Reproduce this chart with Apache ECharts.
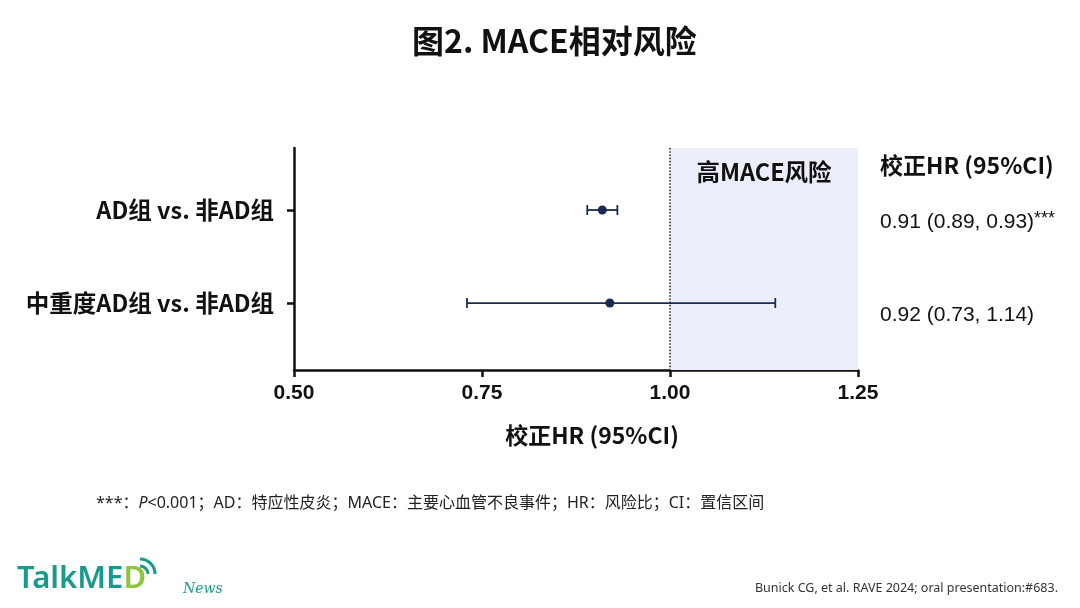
<!DOCTYPE html>
<html><head><meta charset="utf-8">
<script src="https://cdn.jsdelivr.net/npm/echarts@6/dist/echarts.min.js"></script>
<style>html,body{margin:0;padding:0;background:#fff}#c{width:1080px;height:608px}</style>
</head><body><div id="c"></div>
<script>
const categories = ['AD组 vs. 非AD组', '中重度AD组 vs. 非AD组'];
const hr = [0.91, 0.92];
const ciLow = [0.89, 0.73];
const ciHigh = [0.93, 1.14];
const hrLabels = ['0.91 (0.89, 0.93)', '0.92 (0.73, 1.14)'];
const hrSig = ['***', ''];
const xTicks = [0.50, 0.75, 1.00, 1.25];
const refLine = 1.00;

const CJK = 'Noto Sans CJK SC';
const MIX = 'Noto Sans, Noto Sans CJK SC, sans-serif';
const ARIAL = 'Liberation Sans';
const navy = '#1b2a52';
const chart = echarts.init(document.getElementById('c'));
const data = categories.map((c, i) => [hr[i], ciLow[i], ciHigh[i], i]);

chart.setOption({
  backgroundColor: '#fff',
  animation: false,
  title: {
    text: '图2. MACE相对风险', left: 407, top: 20,
    textStyle: { fontFamily: CJK, fontSize: 32, fontWeight: 'bold', color: '#111' }
  },
  grid: { left: 294, right: 222, top: 148, bottom: 238 },
  xAxis: {
    type: 'value', min: xTicks[0], max: xTicks[xTicks.length - 1], interval: 0.25,
    name: '校正HR (95%CI)', nameLocation: 'middle', nameGap: 54,
    nameTextStyle: { fontFamily: CJK, fontSize: 23, fontWeight: 'bold', color: '#111', padding: [0, 0, 0, 32] },
    axisLine: { onZero: false, lineStyle: { color: '#111', width: 2.5 } },
    axisTick: { length: 7, lineStyle: { color: '#111', width: 2.5 } },
    axisLabel: { formatter: v => v.toFixed(2), fontFamily: ARIAL, fontSize: 21, fontWeight: 'bold', color: '#111', margin: 13 },
    splitLine: { show: false }
  },
  yAxis: {
    type: 'value', inverse: true, min: -0.667, max: 1.72,
    axisLine: { show: true, onZero: false, lineStyle: { color: '#111', width: 2.5 } },
    axisTick: { show: true, length: 7, customValues: categories.map((c, i) => i), lineStyle: { color: '#111', width: 2.5 } },
    axisLabel: {
      customValues: categories.map((c, i) => i),
      formatter: v => categories[Math.round(v)] || '',
      fontFamily: CJK, fontSize: 23.5, fontWeight: 'bold', color: '#111', margin: 20
    },
    splitLine: { show: false }
  },
  graphic: [
    { type: 'text', left: 880, top: 154, style: { text: '校正HR (95%CI)', fontFamily: CJK, fontSize: 23, fontWeight: 'bold', fill: '#111' } },
    { type: 'text', left: 96, top: 495, style: {
      text: '***：{i|P}<0.001；AD：特应性皮炎；MACE：主要心血管不良事件；HR：风险比；CI：置信区间',
      fontFamily: MIX, fontSize: 16, fill: '#222',
      rich: { i: { fontStyle: 'italic', fontSize: 16, fontFamily: MIX, fill: '#222' } }
    } },
    { type: 'text', right: 22, top: 582, style: { text: 'Bunick CG, et al. RAVE 2024; oral presentation:#683.', fontFamily: 'Noto Sans', fontSize: 12.5, fill: '#333' } },
    { type: 'text', left: 17, top: 564, style: {
      text: '{a|TalkME}{b|D}', rich: {
        a: { fontSize: 31, fontFamily: 'Noto Sans', fill: '#1a9a8c', fontWeight: 600 },
        b: { fontSize: 31, fontFamily: 'Noto Sans', fill: '#8cc63f', fontWeight: 600 }
      } } },
    { type: 'arc', shape: { cx: 140, cy: 574, r: 8, startAngle: -Math.PI * 0.5, endAngle: 0 }, style: { stroke: '#1a9a8c', lineWidth: 3, fill: null } },
    { type: 'arc', shape: { cx: 140, cy: 574, r: 15, startAngle: -Math.PI * 0.5, endAngle: 0 }, style: { stroke: '#1a9a8c', lineWidth: 3, fill: null } },
    { type: 'text', left: 183, top: 582, style: { text: 'News', fontFamily: 'DejaVu Serif', fontStyle: 'italic', fontSize: 14, fill: '#1a9a8c' } }
  ],
  series: [
    {
      type: 'line', data: [], silent: true,
      markArea: {
        silent: true,
        itemStyle: { color: '#eceefb' },
        label: { show: true, position: 'insideTop', distance: 12, formatter: '高MACE风险', fontFamily: CJK, fontSize: 23.5, fontWeight: 'bold', color: '#111' },
        data: [[{ xAxis: refLine }, { xAxis: xTicks[xTicks.length - 1] }]]
      },
      markLine: {
        silent: true, symbol: 'none', label: { show: false },
        lineStyle: { type: 'dotted', color: '#333', width: 1.6 },
        data: [{ xAxis: refLine }]
      }
    },
    {
      type: 'custom', data: data, z: 5,
      renderItem(params, api) {
        const y = api.value(3);
        const lo = api.coord([api.value(1), y]);
        const hi = api.coord([api.value(2), y]);
        const pt = api.coord([api.value(0), y]);
        const right = api.coord([xTicks[xTicks.length - 1], y]);
        const cap = 5;
        const st = { stroke: navy, lineWidth: 1.8 };
        return {
          type: 'group', children: [
            { type: 'line', shape: { x1: lo[0], y1: lo[1], x2: hi[0], y2: hi[1] }, style: st },
            { type: 'line', shape: { x1: lo[0], y1: lo[1] - cap, x2: lo[0], y2: lo[1] + cap }, style: st },
            { type: 'line', shape: { x1: hi[0], y1: hi[1] - cap, x2: hi[0], y2: hi[1] + cap }, style: st },
            { type: 'circle', shape: { cx: pt[0], cy: pt[1], r: 4.5 }, style: { fill: navy } },
            { type: 'text', x: right[0] + 22, y: right[1] + 12, style: {
              text: hrLabels[params.dataIndex] + (hrSig[params.dataIndex] ? '{s|' + hrSig[params.dataIndex] + '}' : ''),
              fontFamily: ARIAL, fontSize: 21, fill: '#111', verticalAlign: 'middle', align: 'left',
              rich: { s: { fontFamily: ARIAL, fontSize: 18, fill: '#111', verticalAlign: 'top', padding: [0, 0, 6, 0] } }
            } }
          ]
        };
      }
    }
  ]
});
</script></body></html>
